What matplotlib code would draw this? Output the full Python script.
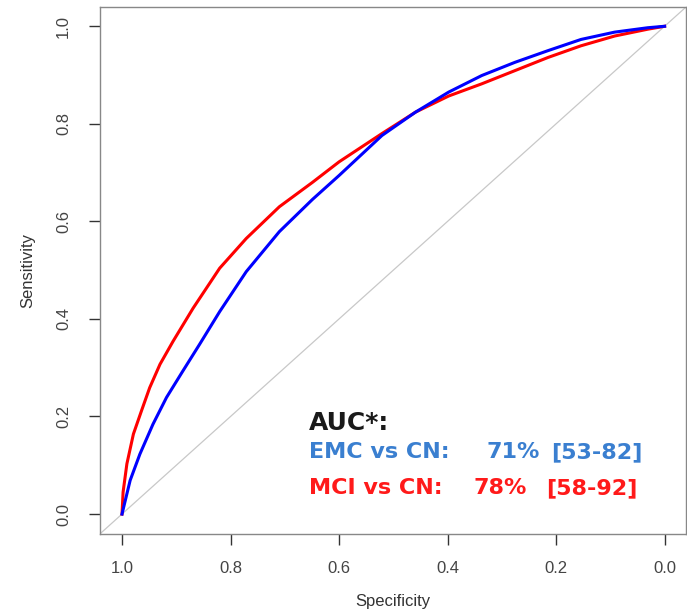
import matplotlib.pyplot as plt

# ROC curves (specificity, sensitivity)
emc_spec = [1.0, 0.985, 0.967, 0.943, 0.918, 0.888, 0.857, 0.820, 0.771, 0.710,
            0.649, 0.600, 0.521, 0.459, 0.398, 0.337, 0.276, 0.215, 0.154,
            0.092, 0.031, 0.0]
emc_sens = [0.0, 0.069, 0.123, 0.184, 0.239, 0.293, 0.348, 0.415, 0.497, 0.579,
            0.645, 0.694, 0.776, 0.824, 0.865, 0.899, 0.926, 0.950, 0.973,
            0.988, 0.997, 1.0]

mci_spec = [1.0, 0.998, 0.991, 0.979, 0.964, 0.949, 0.930, 0.906, 0.869, 0.820,
            0.771, 0.710, 0.649, 0.600, 0.521, 0.459, 0.398, 0.337, 0.276,
            0.215, 0.154, 0.092, 0.031, 0.0]
mci_sens = [0.0, 0.045, 0.103, 0.164, 0.212, 0.259, 0.307, 0.354, 0.422, 0.504,
            0.565, 0.630, 0.680, 0.722, 0.780, 0.824, 0.857, 0.882, 0.909,
            0.936, 0.960, 0.980, 0.994, 1.0]

ticks = [1.0, 0.8, 0.6, 0.4, 0.2, 0.0]
tick_labels = ['1.0', '0.8', '0.6', '0.4', '0.2', '0.0']

fig = plt.figure(figsize=(6.87, 6.14), dpi=100)
ax = fig.add_axes([0.146, 0.131, 0.853, 0.858])

ax.axline((1, 0), (0, 1), color='#c8c8c8', lw=0.9, zorder=1)
ax.plot(emc_spec, emc_sens, color='#0000ff', lw=2.2, zorder=3)
ax.plot(mci_spec, mci_sens, color='#ff0000', lw=2.2, zorder=2)

ax.set_xlim(1.04, -0.04)
ax.set_ylim(-0.04, 1.04)
ax.set_xticks(ticks)
ax.set_xticklabels(tick_labels)
ax.set_yticks(ticks)
ax.set_yticklabels(tick_labels, rotation=90, va='center')
for s in ax.spines.values():
    s.set_color('#888888')
    s.set_linewidth(1.0)
ax.tick_params(direction='out', length=8, width=1.0, color='#333333',
               labelsize=12, labelcolor='#444444')
ax.tick_params(axis='x', pad=12)
ax.tick_params(axis='y', pad=13)
for lab in ax.get_xticklabels() + ax.get_yticklabels():
    lab.set_family('Liberation Sans')

ax.set_xlabel('Specificity', fontsize=12, color='#333333', family='Liberation Sans', labelpad=13)
ax.set_ylabel('Sensitivity', fontsize=12, color='#333333', family='Liberation Sans', labelpad=15)

# AUC annotation
blue_txt = '#3a7fd0'
red_txt = '#ff1a1a'
fnt = 'DejaVu Sans'
ax.text(0.655, 0.173, 'AUC*:', fontsize=18, fontweight='bold', color='#1a1a1a', family=fnt)
ax.text(0.655, 0.114, 'EMC vs CN:', fontsize=16, fontweight='bold', color=blue_txt, family=fnt)
ax.text(0.328, 0.114, '71%', fontsize=16, fontweight='bold', color=blue_txt, family=fnt)
ax.text(0.209, 0.114, '[53-82]', fontsize=16, fontweight='bold', color=blue_txt, family=fnt)
ax.text(0.655, 0.041, 'MCI vs CN:', fontsize=16, fontweight='bold', color=red_txt, family=fnt)
ax.text(0.352, 0.041, '78%', fontsize=16, fontweight='bold', color=red_txt, family=fnt)
ax.text(0.218, 0.041, '[58-92]', fontsize=16, fontweight='bold', color=red_txt, family=fnt)

fig.savefig('out.png', dpi=100)
